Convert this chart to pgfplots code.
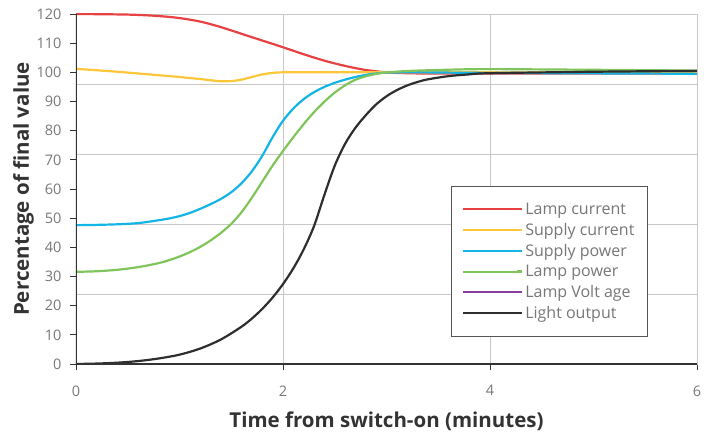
\documentclass[border=0pt]{standalone}
\usepackage{fontspec}
\setmainfont{Open Sans}
\usepackage{pgfplots}
\pgfplotsset{compat=1.18}
\definecolor{cRed}{HTML}{E84142}
\definecolor{cYel}{HTML}{FDC739}
\definecolor{cBlue}{HTML}{13B4E6}
\definecolor{cGreen}{HTML}{80C55B}
\definecolor{cPurp}{HTML}{8A3E9B}
\definecolor{cBlk}{HTML}{2E2E2E}
\definecolor{cGrid}{HTML}{C8C8C8}
\definecolor{cTick}{HTML}{777777}
\definecolor{cLab}{HTML}{333333}
\definecolor{cLeg}{HTML}{555555}
\begin{document}
\begin{tikzpicture}
\path[use as bounding box] (-76pt,-70pt) rectangle (634pt,364pt);
\begin{axis}[
  at={(0,0)}, anchor=south west,
  scale only axis, width=621pt, height=350pt,
  xmin=0, xmax=6, ymin=0, ymax=120,
  xtick={0,2,4,6}, ytick={0,10,...,120},
  extra y ticks={24,48,72,96}, extra y tick labels={},
  extra y tick style={grid=major, major tick length=0pt},
  xmajorgrids,
  grid style={cGrid, line width=0.9pt},
  axis line style={cGrid, line width=0.9pt},
  tick align=outside, tick pos=left,
  major tick length=6pt,
  tick style={cLab, line width=0.9pt},
  /pgf/number format/assume math mode=true,
  ticklabel style={font=\fontsize{14.5}{16}\selectfont, text=cTick},
  xticklabel style={yshift=-12pt},
  yticklabel style={xshift=-5pt},
  xlabel={Time from switch-on (minutes)},
  ylabel={Percentage of final value},
  label style={font=\fontsize{20.5}{23}\selectfont\bfseries, text=cLab},
  xlabel style={yshift=-9pt},
  ylabel style={yshift=-10pt},
  legend style={at={(0.6035,0.5095)}, anchor=north west, draw=cLeg, line width=0.9pt,
    font=\fontsize{16}{18.5}\selectfont, text=cTick, inner xsep=11pt, inner ysep=14.5pt,
    row sep=3.4pt},
  legend cell align=left,
  legend image code/.code={\draw[#1, line width=2pt] (0pt,0pt) -- (54pt,0pt); \path (54pt,0pt) -- (59pt,0pt);},
  every axis plot/.append style={line width=2.2pt},
]
% Lamp voltage (hidden underneath supply current)
\addplot[cPurp, smooth, forget plot, line width=0.8pt] coordinates {(0,101.2) (0.4,100.2) (0.8,99.0) (1.0,98.4) (1.2,97.7) (1.3,97.3) (1.4,96.95) (1.5,97.0) (1.6,97.5) (1.7,98.4) (1.8,99.3) (1.9,99.8) (2.0,100.0) (2.4,100.05) (4,100) (6,99.8)};
\addplot[cRed, smooth, forget plot] coordinates {(0,120) (0.5,119.8) (0.8,119.3) (1.0,118.6) (1.2,117.4) (1.4,115.5) (1.6,113.2) (1.8,110.9) (2.0,108.6) (2.2,106.2) (2.4,104.0) (2.6,102.2) (2.8,100.8) (3.0,100.0) (3.2,99.7) (3.6,99.6) (6,99.6)};
\addplot[cYel, smooth, forget plot] coordinates {(0,101.2) (0.4,100.2) (0.8,99.0) (1.0,98.4) (1.2,97.7) (1.3,97.3) (1.4,96.95) (1.5,97.0) (1.6,97.5) (1.7,98.4) (1.8,99.3) (1.9,99.8) (2.0,100.0) (2.4,100.05) (4,100) (6,99.8)};
\addplot[cBlue, smooth, forget plot] coordinates {(0,47.6) (0.2,47.7) (0.4,47.9) (0.6,48.3) (0.8,49.3) (0.9,49.9) (1.0,50.7) (1.1,51.8) (1.2,53.2) (1.3,54.8) (1.4,56.6) (1.5,58.9) (1.6,62.0) (1.7,66.1) (1.8,71.4) (1.9,77.8) (2.0,83.4) (2.1,87.6) (2.2,90.8) (2.3,93.2) (2.4,95.0) (2.5,96.4) (2.6,97.5) (2.7,98.4) (2.8,99.1) (2.9,99.6) (3.0,99.9) (3.3,100.0) (4,99.8) (6,99.5)};
\addplot[cGreen, smooth, forget plot] coordinates {(0,31.6) (0.2,31.8) (0.4,32.3) (0.6,33.2) (0.8,34.6) (0.9,35.6) (1.0,36.85) (1.1,38.35) (1.2,40.15) (1.3,42.35) (1.4,44.95) (1.5,48.05) (1.6,52.05) (1.7,57.05) (1.8,62.55) (1.9,68.05) (2.0,73.05) (2.1,77.75) (2.2,82.25) (2.3,86.35) (2.4,89.95) (2.5,93.05) (2.6,95.55) (2.7,97.45) (2.8,98.65) (2.9,99.45) (3.0,99.95) (3.2,100.45) (3.5,100.8) (3.9,101.1) (4.5,101.0) (6,100.6)};
\addplot[cBlk, smooth, forget plot] coordinates {(0,0) (0.2,0.15) (0.4,0.45) (0.6,1.0) (0.8,1.9) (1.0,3.2) (1.2,5.3) (1.4,8.4) (1.6,12.8) (1.7,15.6) (1.8,18.9) (1.9,22.8) (2.0,27.4) (2.1,32.8) (2.2,39.3) (2.3,47.3) (2.4,58.0) (2.5,68.0) (2.6,75.5) (2.7,81.0) (2.8,85.3) (2.9,89.0) (3.0,91.8) (3.1,93.9) (3.2,95.5) (3.3,96.7) (3.4,97.6) (3.6,98.7) (3.8,99.3) (4.0,99.7) (5,100.2) (6,100.5)};
\draw[cLab, line width=1.2pt] (rel axis cs:0,1) -- (rel axis cs:0,0) -- (rel axis cs:1,0);
\addlegendimage{cRed}\addlegendentry{Lamp current}
\addlegendimage{cYel}\addlegendentry{Supply current}
\addlegendimage{cBlue}\addlegendentry{Supply power}
\addlegendimage{cGreen}\addlegendentry{Lamp power}
\addlegendimage{cPurp}\addlegendentry{Lamp Volt age}
\addlegendimage{cBlk}\addlegendentry{Light output}
\end{axis}
\end{tikzpicture}
\end{document}
